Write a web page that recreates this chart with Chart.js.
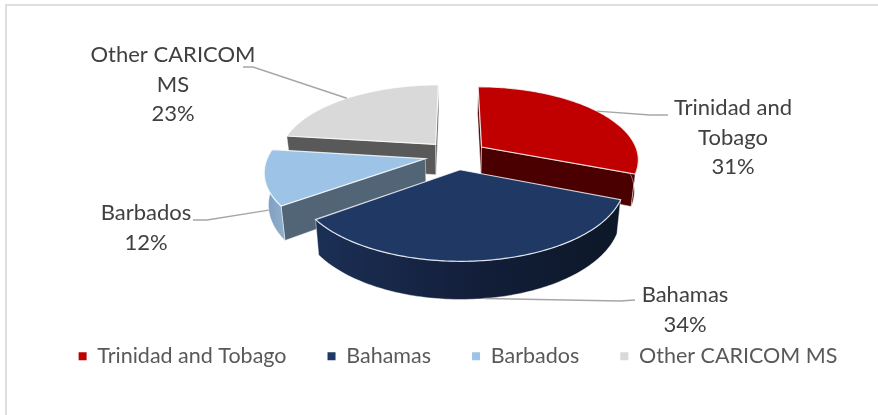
<!DOCTYPE html>
<html>
<head>
<meta charset="utf-8">
<title>Share by member state</title>
<script src="https://cdn.jsdelivr.net/npm/chart.js@4"></script>
<style>
  html, body { margin: 0; padding: 0; background: #fff; overflow: hidden; }
  #frame { position: absolute; left: 5px; top: 4px; right: 0; bottom: 0; border-top: 2px solid #dedede; border-left: 2px solid #dedede; }
  #shareChart { position: absolute; left: 0; top: 0; }
</style>
</head>
<body>
<div id="frame"></div>
<canvas id="shareChart" width="878" height="415"></canvas>
<script>
const categories = ['Trinidad and Tobago', 'Bahamas', 'Barbados', 'Other CARICOM MS'];
const shares = [31, 34, 12, 23];
const topColors = ['#c00000', '#1f3864', '#9dc3e6', '#d9d9d9'];
const wallColors = ['#4a0000', '#0f1c33', '#526577', '#595959'];
const rimColors = [
  ['#4f0000', '#4a0000'],
  ['#1b2f55', '#131f3b', '#0c1727'],
  ['#7b9cc0', '#8dacca'],
  ['#595959', '#595959'],
];

// tilted disc: where the pie sits on the page and how it is foreshortened
const disc = { cx: 456, cy: 155, rx: 157, ry: 72, persp: 0.157, depth: 31, narrow: 0.022, explode: 0.2 };

// text centre of each callout's first line and the bend of its leader
const calloutText = [[733, 108], [685, 295], [146, 213], [173, 55]];
const calloutBend = [[[650, 115], [668, 115]], [[620, 301], [635, 300]], [[207, 220], [193, 220]], [[253, 67], [243, 67]]];
const CALLOUT_WRAP = 170;
const CALLOUT_LINE = 29.5;

function project(u, v, drop) {
  const w = 1 - disc.persp * v;
  const shrink = drop ? 1 - disc.narrow : 1;
  return [disc.cx + disc.rx * u / w * shrink, disc.cy + (disc.ry * v + drop) / w];
}

// disc coordinates of a slice, pushed out along its middle angle
function sliceShape(arc) {
  const { startAngle, endAngle } = arc.getProps(['startAngle', 'endAngle'], true);
  const mid = (startAngle + endAngle) / 2;
  const ox = Math.cos(mid) * disc.explode;
  const oy = Math.sin(mid) * disc.explode;
  const rim = [];
  const steps = Math.ceil((endAngle - startAngle) / (Math.PI / 180));
  for (let i = 0; i <= steps; i++) {
    const a = startAngle + (endAngle - startAngle) * i / steps;
    rim.push({ a, u: ox + Math.cos(a), v: oy + Math.sin(a) });
  }
  return { mid, ox, oy, rim };
}

function fillPoly(ctx, pts, fill, stroke, lineWidth) {
  ctx.beginPath();
  pts.forEach((p, i) => (i ? ctx.lineTo(p[0], p[1]) : ctx.moveTo(p[0], p[1])));
  ctx.closePath();
  ctx.fillStyle = fill;
  ctx.fill();
  if (stroke) {
    ctx.strokeStyle = stroke;
    ctx.lineWidth = lineWidth;
    ctx.stroke();
  }
}

function drawSlice(ctx, shape, i) {
  const { ox, oy, rim } = shape;
  const first = rim[0];
  const last = rim[rim.length - 1];
  const edge = 'rgba(255,255,255,0.55)';
  const wall = p => [project(ox, oy, 0), project(p.u, p.v, 0), project(p.u, p.v, disc.depth), project(ox, oy, disc.depth)];

  // only the faces turned towards the viewer get drawn
  if (-Math.cos(first.a) > -0.01) fillPoly(ctx, wall(first), wallColors[i], edge, 0.8);
  if (Math.cos(last.a) > -0.01) fillPoly(ctx, wall(last), wallColors[i], edge, 0.8);

  const front = rim.filter(p => Math.sin(p.a) > -0.05);
  if (front.length > 1) {
    const top = front.map(p => project(p.u, p.v, 0));
    const low = front.map(p => project(p.u, p.v, disc.depth));
    const xs = top.map(p => p[0]);
    const grad = ctx.createLinearGradient(Math.min(...xs), 0, Math.max(...xs), 0);
    rimColors[i].forEach((c, k) => grad.addColorStop(k / (rimColors[i].length - 1), c));
    fillPoly(ctx, top.concat(low.reverse()), grad, edge, 0.8);
  }

  const lid = rim.map(p => project(p.u, p.v, 0));
  fillPoly(ctx, [project(ox, oy, 0)].concat(lid), topColors[i], 'rgba(255,255,255,0.8)', 1.2);
}

function wrapName(ctx, name) {
  const lines = [];
  let line = '';
  name.split(' ').forEach(word => {
    const next = line ? line + ' ' + word : word;
    if (ctx.measureText(next).width > CALLOUT_WRAP && line) {
      lines.push(line);
      line = word;
    } else {
      line = next;
    }
  });
  lines.push(line);
  return lines;
}

function drawCallout(ctx, shape, i) {
  const rx = shape.ox + Math.cos(shape.mid);
  const ry = shape.oy + Math.sin(shape.mid);
  // front slices take the leader from the lower edge of the band
  const start = project(rx, ry, ry > 0 ? disc.depth : 0);

  ctx.beginPath();
  ctx.moveTo(start[0], start[1]);
  calloutBend[i].forEach(p => ctx.lineTo(p[0], p[1]));
  ctx.strokeStyle = '#a6a6a6';
  ctx.lineWidth = 1.4;
  ctx.stroke();

  ctx.font = '22px Lato';
  ctx.fillStyle = '#404040';
  ctx.textAlign = 'center';
  ctx.textBaseline = 'middle';
  const lines = wrapName(ctx, categories[i]).concat(shares[i] + '%');
  lines.forEach((text, k) => {
    ctx.fillText(text, calloutText[i][0], calloutText[i][1] + k * CALLOUT_LINE);
  });
}

const tiltedPie = {
  id: 'tiltedPie',
  beforeDatasetsDraw(chart) {
    const ctx = chart.ctx;
    const shapes = chart.getDatasetMeta(0).data.map(sliceShape);
    const order = shapes.map((s, i) => i).sort((a, b) => Math.sin(shapes[a].mid) - Math.sin(shapes[b].mid));
    ctx.save();
    order.forEach(i => drawSlice(ctx, shapes[i], i));
    shapes.forEach((s, i) => drawCallout(ctx, s, i));
    ctx.restore();
    return false;
  },
};

new Chart(document.getElementById('shareChart').getContext('2d'), {
  type: 'pie',
  data: {
    labels: categories,
    datasets: [{ data: shares, backgroundColor: topColors, borderWidth: 0 }],
  },
  options: {
    responsive: false,
    animation: false,
    // legend box overhangs the right edge so its row stays on one line, centred a little right
    layout: { padding: { left: 19, right: -19, bottom: 38 } },
    plugins: {
      tooltip: { enabled: false },
      legend: {
        position: 'bottom',
        labels: {
          boxWidth: 8,
          boxHeight: 8,
          padding: 41,
          color: '#595959',
          font: { family: 'Lato', size: 21.5 },
        },
      },
    },
  },
  plugins: [tiltedPie],
});
</script>
</body>
</html>
